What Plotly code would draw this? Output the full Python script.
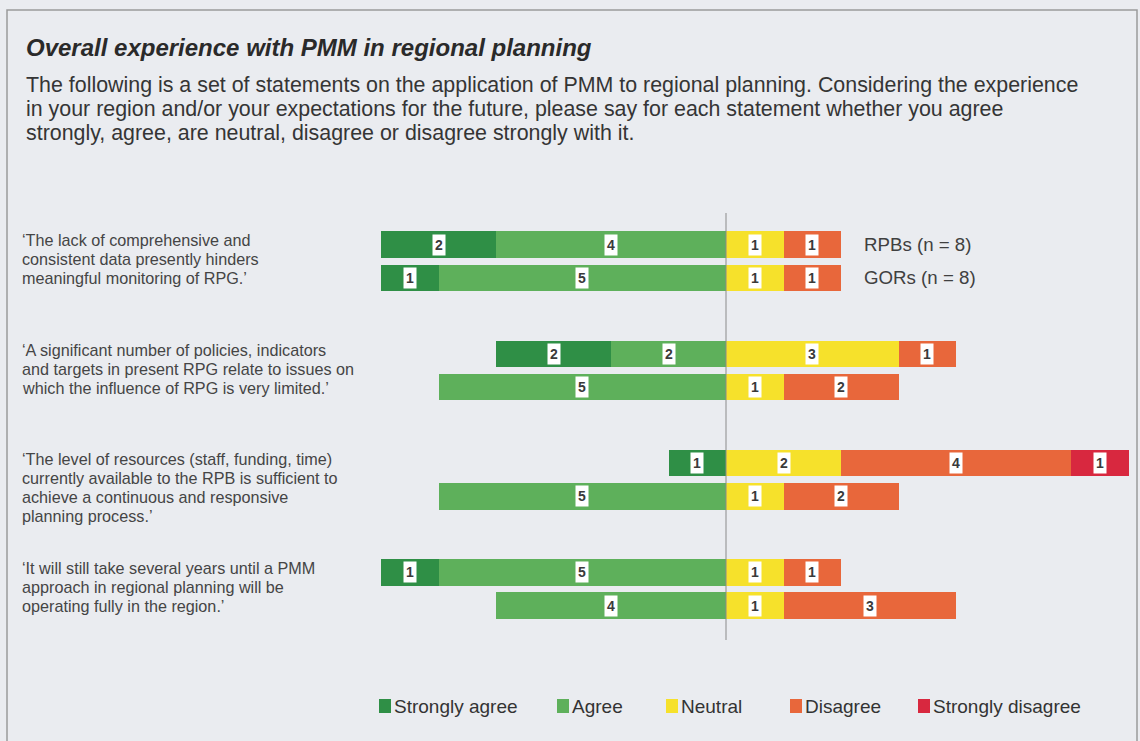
import plotly.graph_objects as go

# survey answers, two rows per statement (RPBs, GORs)
statements = [
    ["‘The lack of comprehensive and", "consistent data presently hinders", "meaningful monitoring of RPG.’"],
    ["‘A significant number of policies, indicators", "and targets in present RPG relate to issues on",
     "which the influence of RPG is very limited.’"],
    ["‘The level of resources (staff, funding, time)", "currently available to the RPB is sufficient to",
     "achieve a continuous and responsive", "planning process.’"],
    ["‘It will still take several years until a PMM", "approach in regional planning will be",
     "operating fully in the region.’"],
]
groups = ["RPBs (n = 8)", "GORs (n = 8)"]
categories = ["Strongly agree", "Agree", "Neutral", "Disagree", "Strongly disagree"]

strongly_agree = [2, 1, 2, 0, 1, 0, 1, 0]
agree = [4, 5, 2, 5, 0, 5, 5, 4]
neutral = [1, 1, 3, 1, 2, 1, 1, 1]
disagree = [1, 1, 1, 2, 4, 2, 1, 3]
strongly_disagree = [0, 0, 0, 0, 1, 0, 0, 0]

colors = ["#2f8f46", "#5eb05b", "#f6e12b", "#e8673b", "#d8283f"]

title = "Overall experience with PMM in regional planning"
question = [
    "The following is a set of statements on the application of PMM to regional planning. Considering the experience",
    "in your region and/or your expectations for the future, please say for each statement whether you agree",
    "strongly, agree, are neutral, disagree or disagree strongly with it.",
]

FONT = "Liberation Sans, Arial, sans-serif"
W, H = 1140, 741
px_y = 109.2  # pixels per statement step on the y axis

# row positions: statement index +/- offset for the two groups
offset = 0.152
bar_w = 0.243
rows = []
for i in range(len(statements)):
    rows.append(i - offset)
    rows.append(i + offset)

# starting points: agree side goes left from zero, rest goes right
sa_base = [-(a + s) for a, s in zip(agree, strongly_agree)]
a_base = [-a for a in agree]
n_base = [0] * len(neutral)
d_base = neutral[:]
sd_base = [n + d for n, d in zip(neutral, disagree)]

series = [
    (strongly_agree, sa_base),
    (agree, a_base),
    (neutral, n_base),
    (disagree, d_base),
    (strongly_disagree, sd_base),
]

fig = go.Figure()
for name, (vals, base), col in zip(categories, series, colors):
    fig.add_trace(go.Bar(
        y=rows, x=vals, base=base, orientation="h", name=name,
        marker=dict(color=col, line=dict(width=0)), width=bar_w,
        hoverinfo="skip", showlegend=False,
    ))

annos = []

# value boxes in the bars
for vals, base in series:
    for y, v, b in zip(rows, vals, base):
        if v > 0:
            annos.append(dict(
                x=b + v / 2, y=y, xref="x", yref="y", text="<b>%d</b>" % v,
                showarrow=False, bgcolor="white", borderpad=2,
                font=dict(size=14, color="#3a3a3a", family=FONT),
            ))

# statement texts on the left, one annotation per line
for i, lines in enumerate(statements):
    top = i - offset - bar_w / 2 + 9 / px_y
    for k, line in enumerate(lines):
        annos.append(dict(
            x=20 / W, y=top + k * 19 / px_y, xref="paper", yref="y", text=line,
            showarrow=False, xanchor="left", yanchor="middle", align="left",
            font=dict(size=16.2, color="#454545", family=FONT),
        ))

# group labels to the right of the first statement
for y, g in zip(rows[:2], groups):
    annos.append(dict(
        x=862 / W, y=y, xref="paper", yref="y", text=g, showarrow=False,
        xanchor="left", yanchor="middle", font=dict(size=18.7, color="#404040", family=FONT),
    ))

# title and question
annos.append(dict(
    x=24 / W, y=1 - 47 / H, xref="paper", yref="paper",
    text="<b><i>%s</i></b>" % title, showarrow=False, xanchor="left", yanchor="middle",
    font=dict(size=24, color="#2a2a2a", family=FONT),
))
for k, line in enumerate(question):
    annos.append(dict(
        x=24 / W, y=1 - (85 + 24 * k) / H, xref="paper", yref="paper", text=line,
        showarrow=False, xanchor="left", yanchor="middle", align="left",
        font=dict(size=21.4, color="#353535", family=FONT),
    ))

shapes = [
    # frame of the box
    dict(type="rect", xref="paper", yref="paper", x0=7 / W, x1=1137 / W,
         y0=-0.05, y1=1 - 10 / H, line=dict(color="#9a9a9a", width=1.5)),
    # centre line
    dict(type="line", xref="x", yref="paper", x0=0, x1=0,
         y0=1 - 640 / H, y1=1 - 213 / H, line=dict(color="#8a8a8a", width=1)),
]

# legend drawn by hand so the key squares sit right next to their labels
legend_left = [379, 557, 666, 790, 918]
legend_y = 706
for name, col, lx in zip(categories, colors, legend_left):
    shapes.append(dict(type="rect", xref="paper", yref="paper",
                       x0=lx / W, x1=(lx + 12) / W,
                       y0=1 - (legend_y + 7) / H, y1=1 - (legend_y - 7) / H,
                       fillcolor=col, line=dict(width=0)))
    annos.append(dict(
        x=(lx + 13) / W, y=1 - legend_y / H, xref="paper", yref="paper", text=name,
        showarrow=False, xanchor="left", yanchor="middle",
        font=dict(size=19, color="#333333", family=FONT),
    ))

unit = 57.5
centre = 726
first_row = 261.3
fig.update_layout(
    width=W, height=H, margin=dict(l=0, r=0, t=0, b=0),
    paper_bgcolor="#eaecf0", plot_bgcolor="rgba(0,0,0,0)",
    barmode="overlay", bargap=0, showlegend=False,
    xaxis=dict(range=[-centre / unit, (W - centre) / unit], visible=False, fixedrange=True),
    yaxis=dict(range=[(H - first_row) / px_y, -first_row / px_y], visible=False, fixedrange=True),
    annotations=annos, shapes=shapes,
)

fig.write_html("out.html", config={"displayModeBar": False},
               post_script="document.body.style.margin='0';")
